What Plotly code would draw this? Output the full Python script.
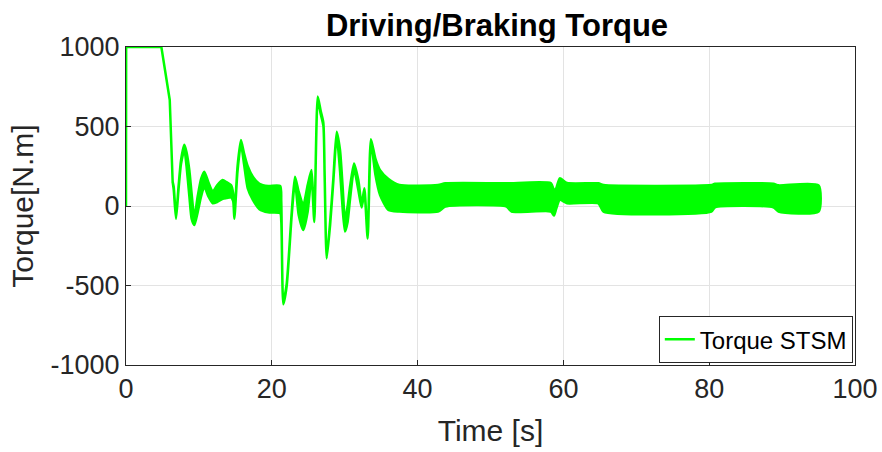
import plotly.graph_objects as go

# Envelope (upper / lower edge) of the densely oscillating torque signal
time_s = [0.0, 0.02, 4.85, 6.0, 6.2, 6.4, 6.55, 6.86, 7.2, 7.55, 8.0, 8.3, 8.69, 9.0,
          9.37, 9.83, 10.3, 10.74, 11.3, 11.9, 12.5, 13.26, 13.8, 14.4, 14.7, 14.86,
          15.3, 15.77, 16.2, 16.7, 17.4, 18.3, 19.5, 21.15, 21.3, 21.58, 22.04, 22.73,
          23.18, 23.69, 24.32, 24.92, 25.45, 25.83, 26.3, 26.7, 27.07, 27.25, 27.53,
          28.0, 28.45, 28.9, 29.36, 29.72, 30.04, 30.4, 30.73, 31.28, 31.87, 32.33,
          32.7, 33.15, 33.6, 34.2, 34.85, 36.0, 37.5, 42.8, 43.8, 52.2, 52.9, 58.3,
          58.7, 59.0, 59.5, 60.5, 64.8, 65.5, 80.3, 80.8, 88.8, 89.5, 95.0]
torque_upper = [1000, 1000, 1000, 667, 450, 153, 120, -65, 120, 290, 385, 340, 226, 80,
                -70, 60, 170, 216, 150, 90, 130, 163, 150, 132, 80, -70,
                250, 415, 330, 250, 184, 140, 126, 126, 30, -605, -490, -40,
                184, 90, 6, 132, 226, -90, 688, 600, 525, 200, -320,
                -100, 180, 467, 352, 121, -88, 0, 121, 268, 163, 10,
                111, -195, 420, 300, 226, 170, 132, 132, 143, 143, 143, 143,
                100, 110, 174, 145, 143, 132, 132, 140, 140, 130, 130]
torque_lower = [0, 1000, 1000, 667, 450, 150, 100, -80, 100, 265, 355, 250, 60, -80,
                -120, -40, 60, 121, 60, 17, 25, 45, 50, 55, 30, -80,
                220, 390, 260, 110, 38, -20, -40, -45, -100, -618, -505, -60,
                150, -57, -151, -36, 185, -100, 670, 580, 505, 180, -330,
                -120, 160, 440, 220, -20, -161, -100, 40, 230, 100, -10,
                90, -205, 400, 200, 69, -25, -35, -35, -4, -4, -35, -35,
                -60, -20, 38, 17, 17, -35, -35, -8, -8, -35, -35]

x_ticks = [0, 20, 40, 60, 80, 100]
y_ticks = [-1000, -500, 0, 500, 1000]
y_tick_text = ["-1000", "-500", "0", "500", "1000"]

GREEN = "#00ff00"
AX = "#262626"
FONT = "Liberation Sans"

W, H = 882, 452
SPLIT_T = 6.4  # straight start-up segment before this time, smoothed transients after


def band(idx):
    t = [time_s[i] for i in idx]
    up = [torque_upper[i] for i in idx]
    lo = [torque_lower[i] for i in idx]
    return t + t[::-1], up + lo[::-1]


idx_start = [i for i, t in enumerate(time_s) if t <= SPLIT_T]
idx_rest = [i for i, t in enumerate(time_s) if t >= SPLIT_T]

fig = go.Figure()
xs, ys = band(idx_start)
fig.add_trace(go.Scatter(x=xs, y=ys, mode="lines", fill="toself", fillcolor=GREEN,
                         line=dict(color=GREEN, width=2.5),
                         showlegend=False, hoverinfo="skip"))
xs, ys = band(idx_rest)
fig.add_trace(go.Scatter(x=xs, y=ys, mode="lines", fill="toself", fillcolor=GREEN,
                         line=dict(color=GREEN, width=2.5, shape="spline", smoothing=0.6),
                         showlegend=False, hoverinfo="skip"))
fig.add_trace(go.Scatter(x=[None], y=[None], mode="lines",
                         line=dict(color=GREEN, width=2.5), name="Torque STSM"))

axis_common = dict(showline=True, mirror=True, linecolor=AX, linewidth=1,
                   ticks="inside", ticklen=5, tickcolor=AX, automargin=False,
                   ticklabeloverflow="allow",
                   showgrid=True, gridcolor="#e3e3e3", gridwidth=1,
                   zeroline=False, tickfont=dict(family=FONT, size=27, color=AX))

fig.update_layout(
    width=W, height=H,
    margin=dict(l=126, r=27, t=47, b=87),
    paper_bgcolor="white", plot_bgcolor="white",
    font=dict(family=FONT, color=AX),
    title=dict(text="<b>Driving/Braking Torque</b>", x=497 / W, xref="container",
               xanchor="center",
               y=1 - 25 / H, yref="container", yanchor="middle",
               font=dict(family=FONT, size=31, color="black")),
    xaxis=dict(range=[0, 100], tickvals=x_ticks,
               title=dict(text="Time [s]", font=dict(family=FONT, size=30, color=AX),
                          standoff=16),
               **axis_common),
    yaxis=dict(range=[-1000, 1000], tickvals=y_ticks, ticktext=y_tick_text,
               title=dict(text="Torque[N.m]", font=dict(family=FONT, size=30, color=AX),
                          standoff=8),
               **axis_common),
    legend=dict(x=0.997, y=0.006, xanchor="right", yanchor="bottom",
                bgcolor="white", bordercolor=AX, borderwidth=1,
                font=dict(family=FONT, size=24, color="black"),
                itemwidth=30, tracegroupgap=0),
)

# remove the default 8px page margin so the figure fills the window exactly
fig.write_html("out.html", config={"displayModeBar": False},
               post_script="document.body.style.margin='0';")
